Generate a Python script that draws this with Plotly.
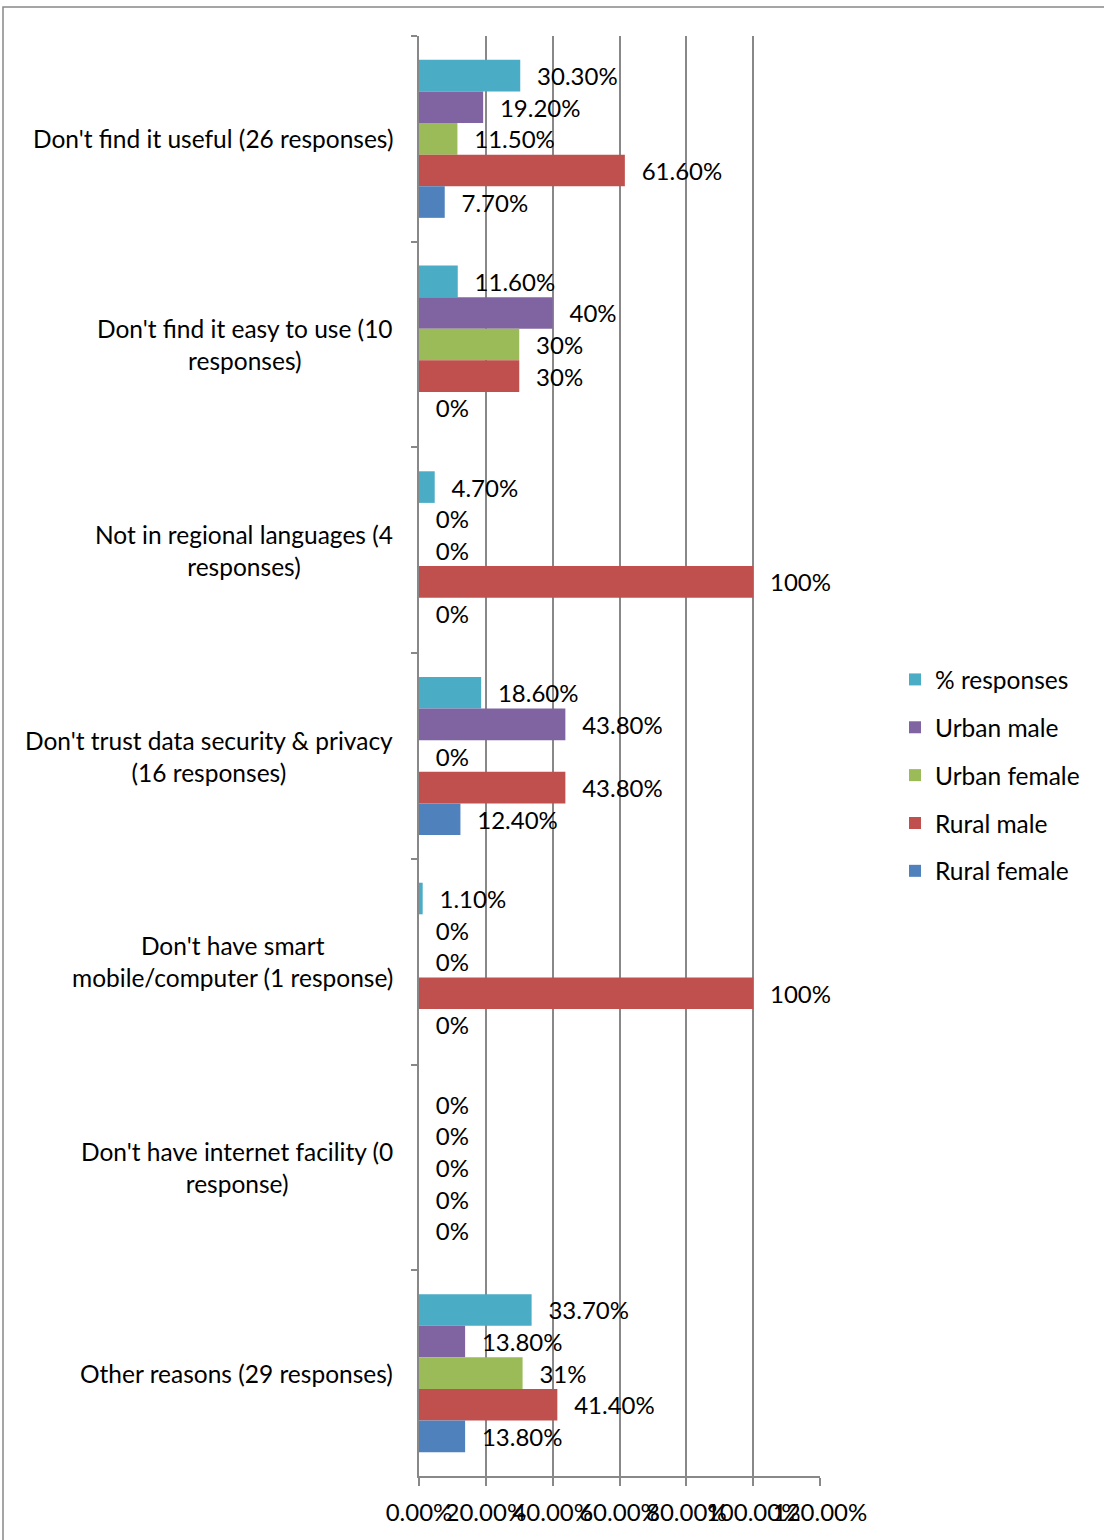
import plotly.graph_objects as go

categories = [
    "Don't find it useful (26 responses)",
    "Don't find it easy to use (10<br>responses)",
    "Not in regional languages (4<br>responses)",
    "Don't trust data security & privacy<br>(16 responses)",
    "Don't have smart<br>mobile/computer (1 response)",
    "Don't have internet facility (0<br>response)",
    "Other reasons (29 responses)",
]

series_names = ["% responses", "Urban male", "Urban female", "Rural male", "Rural female"]
colors = ["#4BACC6", "#8064A2", "#9BBB59", "#C0504D", "#4F81BD"]

pct_responses = [0.303, 0.116, 0.047, 0.186, 0.011, 0.0, 0.337]
urban_male = [0.192, 0.40, 0.0, 0.438, 0.0, 0.0, 0.138]
urban_female = [0.115, 0.30, 0.0, 0.0, 0.0, 0.0, 0.31]
rural_male = [0.616, 0.30, 1.00, 0.438, 1.00, 0.0, 0.414]
rural_female = [0.077, 0.0, 0.0, 0.124, 0.0, 0.0, 0.138]

lbl_pct_responses = ["30.30%", "11.60%", "4.70%", "18.60%", "1.10%", "0%", "33.70%"]
lbl_urban_male = ["19.20%", "40%", "0%", "43.80%", "0%", "0%", "13.80%"]
lbl_urban_female = ["11.50%", "30%", "0%", "0%", "0%", "0%", "31%"]
lbl_rural_male = ["61.60%", "30%", "100%", "43.80%", "100%", "0%", "41.40%"]
lbl_rural_female = ["7.70%", "0%", "0%", "12.40%", "0%", "0%", "13.80%"]

values = [pct_responses, urban_male, urban_female, rural_male, rural_female]
labels = [lbl_pct_responses, lbl_urban_male, lbl_urban_female, lbl_rural_male, lbl_rural_female]

FONT = "Lato, 'Open Sans', sans-serif"
PAD = "\u00a0\u00a0\u200a"

W, H = 1104, 1540
L, R, T, B = 419, 284, 36, 64
pw, ph = W - L - R, H - T - B

fig = go.Figure()
for name, col, vals, lbls in zip(series_names, colors, values, labels):
    fig.add_trace(go.Bar(
        y=categories, x=vals, name=name, orientation="h",
        marker=dict(color=col, line=dict(width=0)),
        text=[PAD + t for t in lbls], textposition="outside",
        textfont=dict(family=FONT, size=24, color="#000"),
        cliponaxis=False, constraintext="none",
        legendgroup=name, hoverinfo="skip",
    ))

for c in categories:
    fig.add_annotation(x=0, xref="paper", y=c, yref="y", text=c, showarrow=False,
                       xanchor="right", yanchor="middle", align="center", xshift=-24,
                       font=dict(family=FONT, size=24.5, color="#000"))

# outer chart frame
fig.add_shape(type="rect", xref="paper", yref="paper",
              x0=(3 - L) / pw, x1=(W + 20 - L) / pw,
              y0=(H - B - (H + 20)) / ph, y1=(H - B - 7) / ph,
              line=dict(color="#888", width=1.5), fillcolor="rgba(0,0,0,0)", layer="below")

fig.update_layout(
    width=W, height=H,
    margin=dict(l=L, r=R, t=T, b=B, pad=0),
    barmode="group", bargap=0.232, bargroupgap=0,
    plot_bgcolor="white", paper_bgcolor="white",
    font=dict(family=FONT, size=24, color="#000"),
    showlegend=True,
    legend=dict(x=(895 - L) / pw, xanchor="left", y=(H - B - 775.5) / ph, yanchor="middle",
                xref="paper", yref="paper", traceorder="grouped", tracegroupgap=13,
                itemwidth=30,
                font=dict(family=FONT, size=24.5, color="#000"), bgcolor="rgba(0,0,0,0)"),
    xaxis=dict(range=[0, 1.2], dtick=0.2, tick0=0, tickformat=".2%", tickangle=0,
               showgrid=True, gridcolor="#888", gridwidth=1.5,
               showline=True, linecolor="#888", linewidth=1.5,
               ticks="outside", ticklen=8, tickcolor="#888", tickwidth=1.5,
               zeroline=False, ticklabelstandoff=6,
               tickfont=dict(family=FONT, size=24, color="#000")),
    yaxis=dict(autorange="reversed", showticklabels=False, tickson="boundaries",
               ticks="outside", ticklen=6, tickcolor="#888", tickwidth=1.5,
               showline=True, linecolor="#888", linewidth=1.5, showgrid=False),
)

fig.write_html("out.html", config={"displayModeBar": False},
               post_script="document.body.style.margin='0';")
